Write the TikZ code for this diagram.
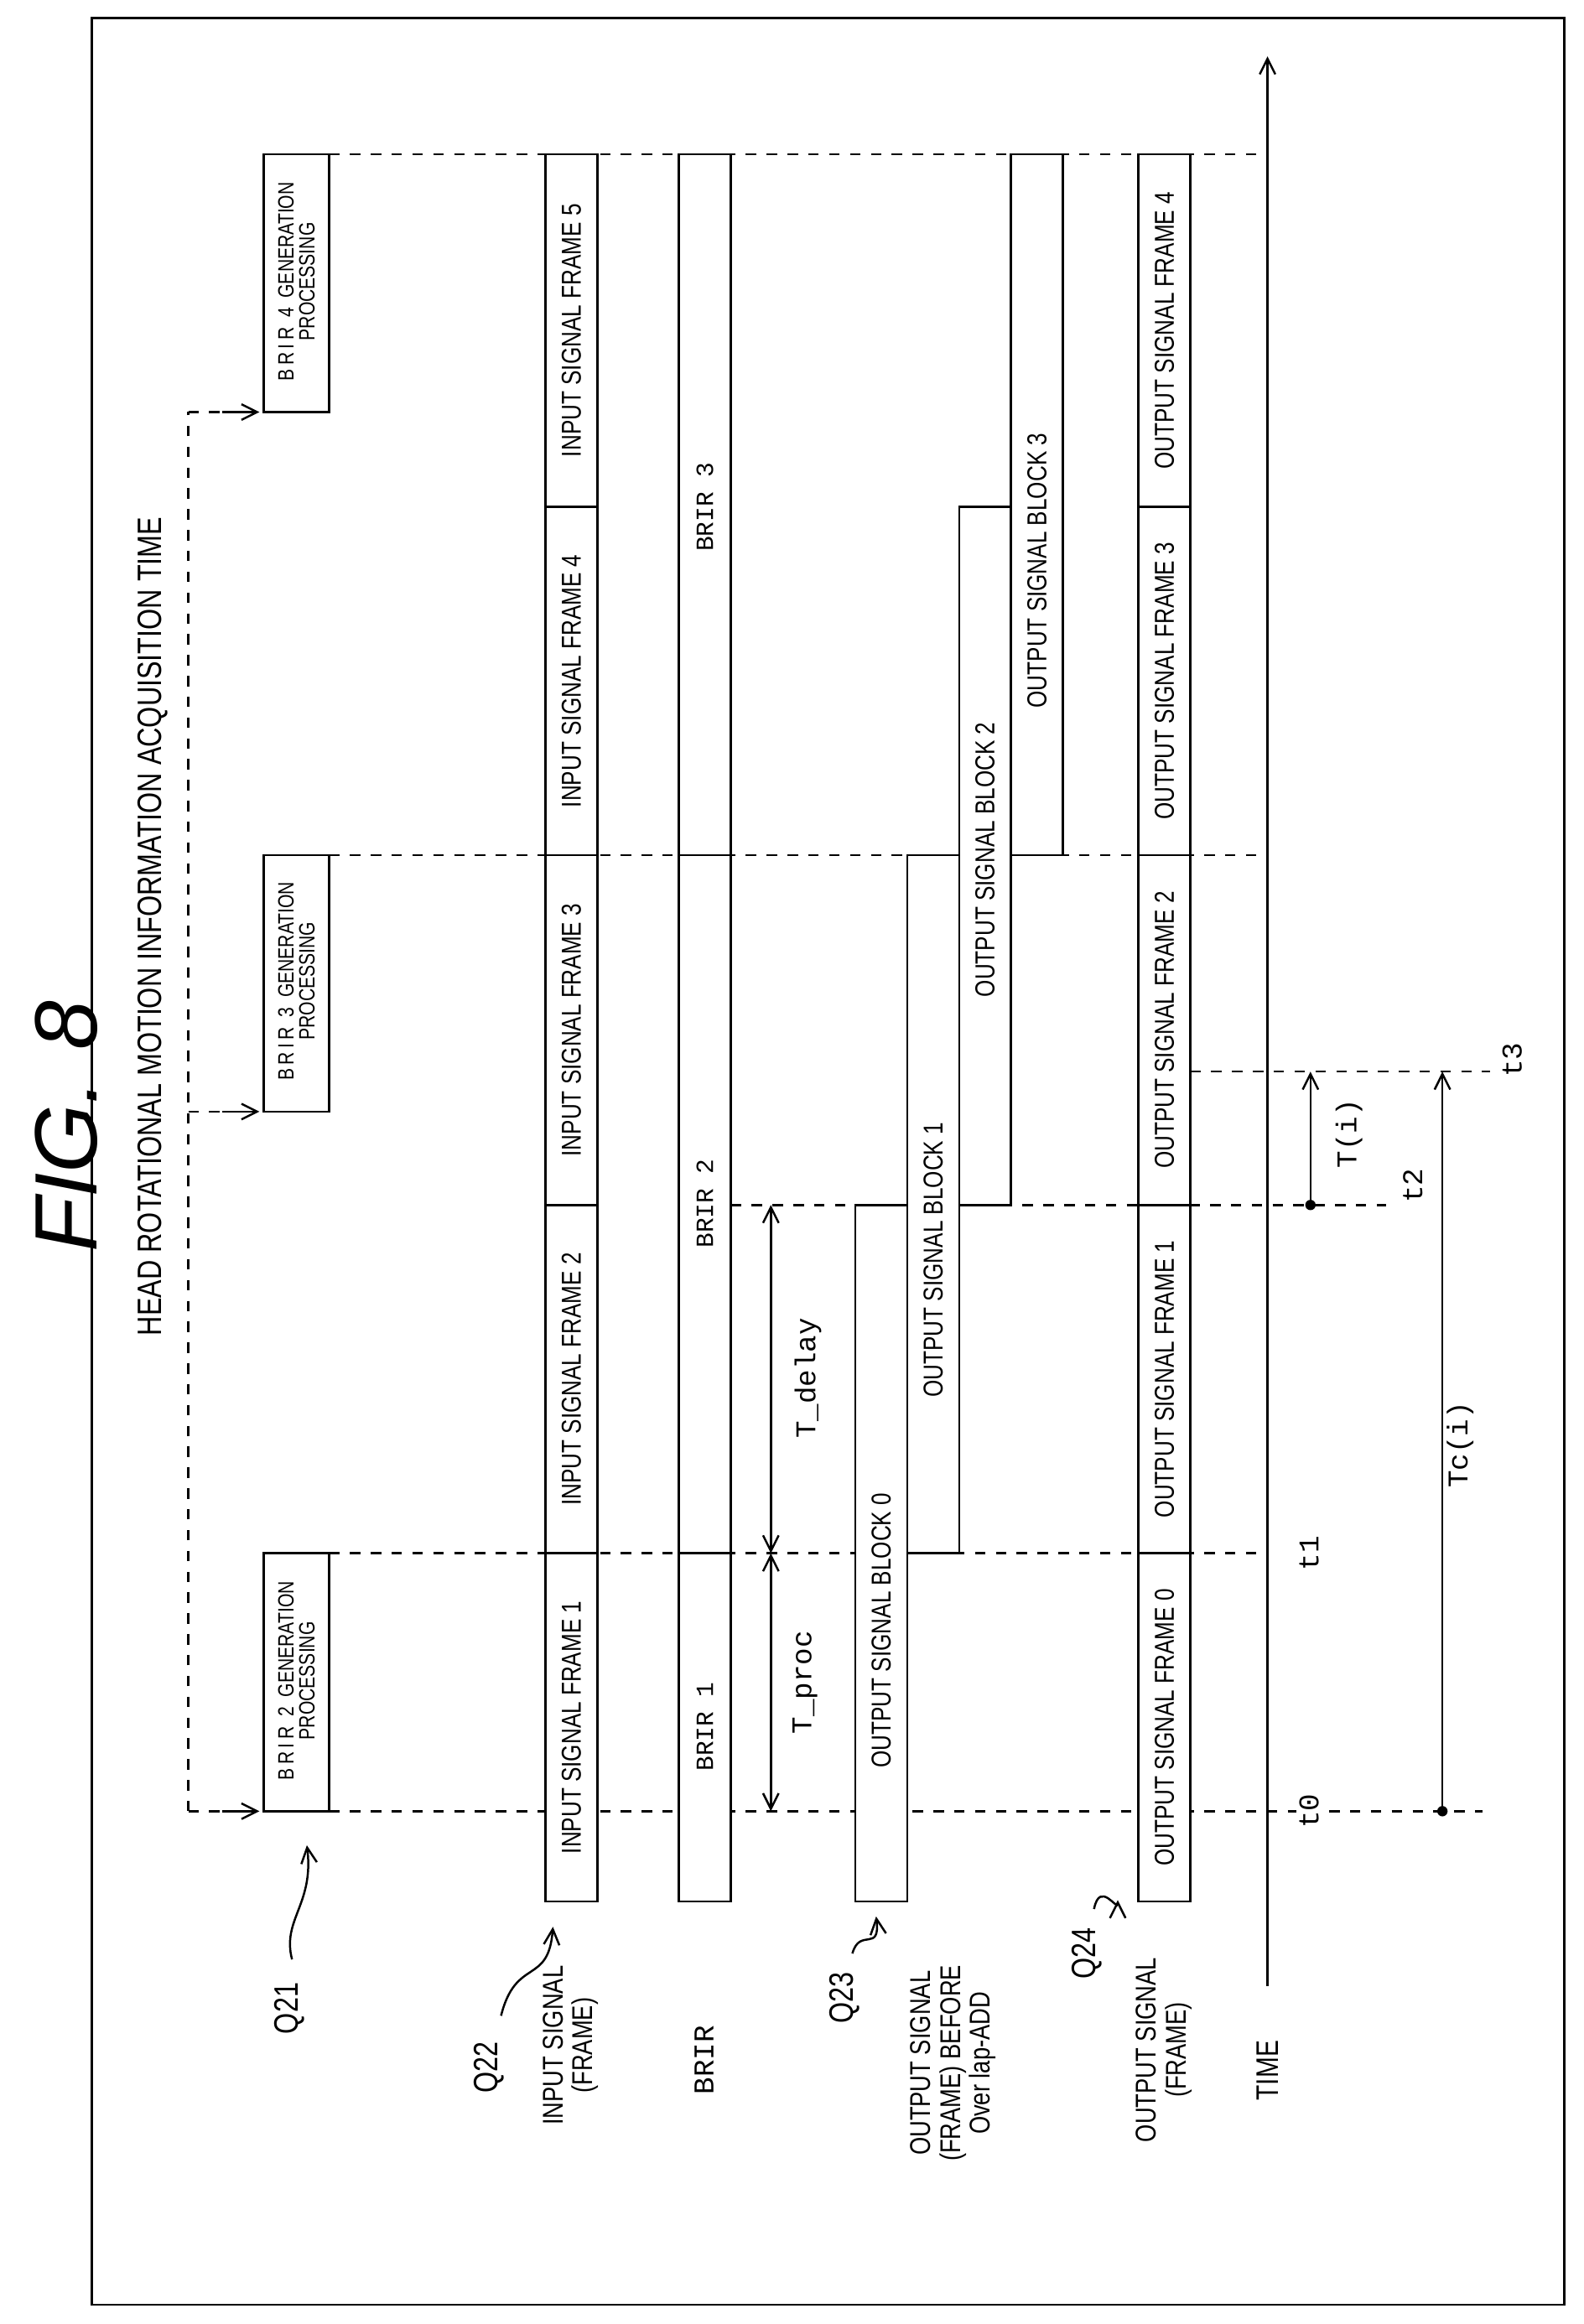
\documentclass[tikz,border=0pt]{standalone}
\usepackage{fontspec}
\setmainfont{Liberation Sans}
\newfontfamily\narrow[FakeStretch=0.8]{Liberation Sans}
\newfontfamily\mono{Liberation Mono}
\usetikzlibrary{arrows.meta}
\tikzset{
  frm/.style={draw, fill=white, line width=0.8pt},
  dsh/.style={dashed, dash pattern=on 4pt off 4pt, line width=0.8pt},
  lbl/.style={rotate=90, font=\narrow\fontsize{10.5}{11}\selectfont, inner sep=0pt},
  small/.style={rotate=90, font=\narrow\fontsize{8.5}{8}\selectfont, inner sep=0pt, align=center},
  side/.style={rotate=90, font=\narrow\fontsize{11}{11.5}\selectfont, inner sep=0pt, align=center},
  qlab/.style={rotate=90, font=\narrow\fontsize{13}{13}\selectfont, inner sep=0pt},
  tm/.style={rotate=90, font=\mono\fontsize{11}{12}\selectfont, inner sep=0pt},
  oarr/.style={-{Straight Barb[length=6pt,width=6pt]}, line width=0.8pt},
  darr/.style={{Straight Barb[length=6pt,width=6pt]}-{Straight Barb[length=6pt,width=6pt]}, line width=0.8pt},
}
\begin{document}
\begin{tikzpicture}[x=0.02cm,y=-0.02cm]
\useasboundingbox (0,0) rectangle (1068,1568);
\draw[line width=0.9pt] (62,12) rectangle (1055,1555);
\node[rotate=90, font=\itshape\fontsize{34}{34}\selectfont] (title) at (45,760) {FIG.\,\,8};

% dashed time lines
\draw[dsh] (222,1222) -- (1000,1222);
\draw[dsh] (222,1048) -- (855,1048);
\draw[dsh] (222,577) -- (855,577);
\draw[dsh] (222,104) -- (855,104);
\draw[dsh] (493,813) -- (935,813);
\draw[dsh] (803,723) -- (1005,723);

% head rotation acquisition
\coordinate (hb) at (127,1222);
\coordinate (ht) at (127,278);
\draw[dsh] (hb) -- (ht);
\node[side, font=\narrow\fontsize{13}{13}\selectfont] (head) at (103,625) {HEAD ROTATIONAL MOTION INFORMATION ACQUISITION TIME};

% generation boxes
\foreach \a/\b/\n in {1222/1048/2,750/577/3,278/104/4}{
  \draw[frm] (178,\a) rectangle (222,\b);
  \coordinate (g\n) at (175,\a);
  \node[small] (gl\n) at (200,{\a-88}) {B\,R\,I\,R\ \ \n\ \ GENERATION\\PROCESSING};
}
\draw[dsh] (hb) -- (150,1222); \draw[oarr] (150,1222) -- (g2);
\draw[dsh] (127,750) -- (150,750); \draw[oarr] (150,750) -- (g3);
\draw[dsh] (ht) -- (150,278); \draw[oarr] (150,278) -- (g4);

% input frames
\foreach \a/\b/\n in {1283/1048/1,1048/813/2,813/577/3,577/342/4,342/104/5}{
  \draw[frm] (368,\a) rectangle (403,\b);
  \node[lbl] (in\n) at (385.5,{(\a+\b)/2}) {INPUT SIGNAL FRAME \n};
}
% output frames
\foreach \a/\b/\n in {1283/1048/0,1048/813/1,813/577/2,577/342/3,342/104/4}{
  \draw[frm] (768,\a) rectangle (803,\b);
  \node[lbl] (out\n) at (785.5,{(\a+\b)/2}) {OUTPUT SIGNAL FRAME \n};
}
% BRIR row
\draw[frm] (458,1283) rectangle (493,104);
\draw[line width=0.8pt] (458,1048) -- (493,1048);
\draw[line width=0.8pt] (458,577) -- (493,577);
\node[tm, font=\mono\fontsize{9.5}{10}\selectfont] (b1) at (475.5,1165) {BRIR 1};
\node[tm, font=\mono\fontsize{9.5}{10}\selectfont] (b2) at (475.5,812) {BRIR 2};
\node[tm, font=\mono\fontsize{9.5}{10}\selectfont] (b3) at (475.5,342) {BRIR 3};

% output blocks
\draw[frm] (577,1283) rectangle (612,813);
\draw[frm] (612,1048) rectangle (647,577);
\draw[frm] (647,813) rectangle (682,342);
\draw[frm] (682,577) rectangle (717,104);
\node[lbl] (ob0) at (594.5,1100) {OUTPUT SIGNAL BLOCK 0};
\node[lbl] (ob1) at (629.5,850) {OUTPUT SIGNAL BLOCK 1};
\node[lbl] (ob2) at (664.5,580) {OUTPUT SIGNAL BLOCK 2};
\node[lbl] (ob3) at (699.5,385) {OUTPUT SIGNAL BLOCK 3};

% T_proc, T_delay
\coordinate (p0) at (520,1222); \coordinate (p1) at (520,1048); \coordinate (p2) at (520,813);
\draw[darr] (p0) -- (p1);
\draw[darr] (p1) -- (p2);
\node[tm] (tproc) at (543,1135) {T\_proc};
\node[tm] (tdelay) at (545,930) {T\_delay};

% time axis
\coordinate (ax0) at (855,1340); \coordinate (ax1) at (855,38);
\draw[oarr] (ax0) -- (ax1);
\node[side, font=\narrow\fontsize{12}{12}\selectfont] (time) at (855,1397) {TIME};
\node[tm, fill=white, inner sep=1pt] (t0) at (883,1222) {t0};
\node[tm] (t1) at (883,1048) {t1};
\node[tm] (t2) at (953,800) {t2};
\node[tm] (t3) at (1020,715) {t3};

% T(i), Tc(i)
\coordinate (d2) at (884,813); \coordinate (d3) at (884,723);
\fill (d2) circle (3.5);
\draw[oarr] (d2) -- (d3);
\node[tm] (ti) at (910,765) {T(i)};
\coordinate (c0) at (973,1222); \coordinate (c3) at (973,723);
\fill (c0) circle (3.5);
\draw[oarr] (c0) -- (c3);
\node[tm] (tci) at (985,975) {Tc(i)};

% side labels
\node[qlab] (q21) at (195,1355) {Q21};
\draw[oarr] (197,1322) .. controls (190,1295) and (212,1285) .. (207,1245);
\node[qlab] (q22) at (330,1395) {Q22};
\draw[oarr] (338,1360) .. controls (348,1320) and (370,1340) .. (373,1300);
\node[side] (isig) at (385,1380) {INPUT SIGNAL\\(FRAME)};
\node[side, font=\mono\fontsize{11}{12}\selectfont] (brir) at (475,1390) {BRIR};
\node[qlab] (q23) at (570,1348) {Q23};
\draw[oarr] (575,1318) .. controls (580,1300) and (594,1318) .. (591,1293);
\node[side] (osb) at (643,1392) {OUTPUT SIGNAL\\(FRAME) BEFORE\\Over lap-ADD};
\node[qlab] (q24) at (733,1318) {Q24};
\draw[oarr] (738,1288) .. controls (742,1268) and (754,1290) .. (754,1282);
\node[side] (osf) at (785,1383) {OUTPUT SIGNAL\\(FRAME)};
\end{tikzpicture}
\end{document}
